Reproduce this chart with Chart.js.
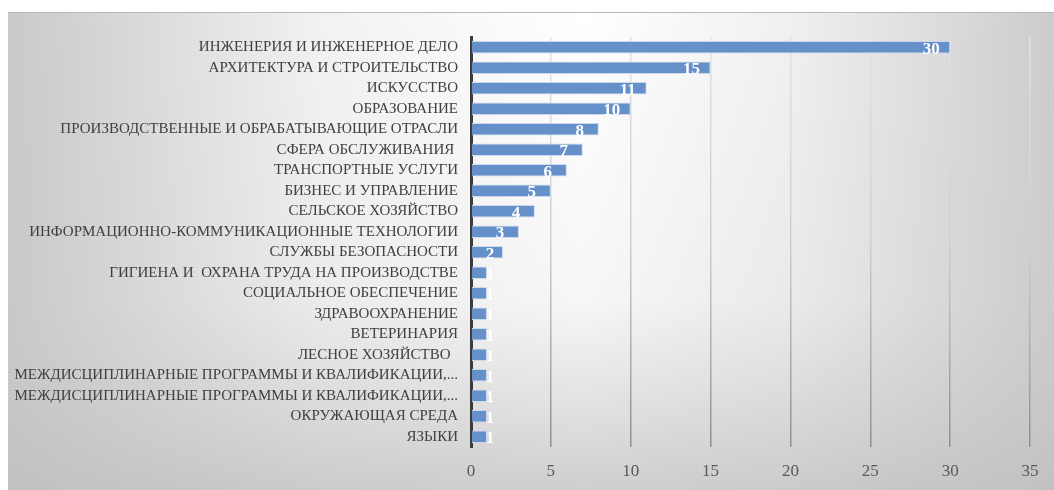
<!DOCTYPE html>
<html>
<head>
<meta charset="utf-8">
<script src="https://cdn.jsdelivr.net/npm/chart.js@4"></script>
<style>
  body { margin: 0; background: #ffffff; }
  #wrap { width: 1054px; height: 490px; position: relative; }
</style>
</head>
<body>
<div id="wrap"><canvas id="myChart" width="1054" height="490"></canvas></div>
<script>
// categories and values
var categories = [
  'ИНЖЕНЕРИЯ И ИНЖЕНЕРНОЕ ДЕЛО',
  'АРХИТЕКТУРА И СТРОИТЕЛЬСТВО',
  'ИСКУССТВО',
  'ОБРАЗОВАНИЕ',
  'ПРОИЗВОДСТВЕННЫЕ И ОБРАБАТЫВАЮЩИЕ ОТРАСЛИ',
  'СФЕРА ОБСЛУЖИВАНИЯ ',
  'ТРАНСПОРТНЫЕ УСЛУГИ',
  'БИЗНЕС И УПРАВЛЕНИЕ',
  'СЕЛЬСКОЕ ХОЗЯЙСТВО',
  'ИНФОРМАЦИОННО-КОММУНИКАЦИОННЫЕ ТЕХНОЛОГИИ',
  'СЛУЖБЫ БЕЗОПАСНОСТИ',
  'ГИГИЕНА И  ОХРАНА ТРУДА НА ПРОИЗВОДСТВЕ',
  'СОЦИАЛЬНОЕ ОБЕСПЕЧЕНИЕ',
  'ЗДРАВООХРАНЕНИЕ',
  'ВЕТЕРИНАРИЯ',
  'ЛЕСНОЕ ХОЗЯЙСТВО  ',
  'МЕЖДИСЦИПЛИНАРНЫЕ ПРОГРАММЫ И КВАЛИФИКАЦИИ,...',
  'МЕЖДИСЦИПЛИНАРНЫЕ ПРОГРАММЫ И КВАЛИФИКАЦИИ,...',
  'ОКРУЖАЮЩАЯ СРЕДА',
  'ЯЗЫКИ'
];
var values = [30, 15, 11, 10, 8, 7, 6, 5, 4, 3, 2, 1, 1, 1, 1, 1, 1, 1, 1, 1];
var xTicks = [0, 5, 10, 15, 20, 25, 30, 35];

var serif = '"Liberation Serif", "DejaVu Serif", serif';

// gray-white-gray panel behind the chart
var backdrop = {
  id: 'backdrop',
  beforeDraw: function(chart) {
    var ctx = chart.ctx;
    ctx.save();
    ctx.fillStyle = '#ffffff';
    ctx.fillRect(0, 0, chart.width, chart.height);
    var g = ctx.createLinearGradient(8, 0, chart.width, 0);
    g.addColorStop(0, '#c9c9c9');
    g.addColorStop(0.3, '#f2f2f2');
    g.addColorStop(0.55, '#ffffff');
    g.addColorStop(0.75, '#f0f0f0');
    g.addColorStop(1, '#cccccc');
    ctx.fillStyle = g;
    ctx.fillRect(8, 12, chart.width - 8, chart.height - 12);
    var v = ctx.createLinearGradient(0, 12, 0, chart.height);
    v.addColorStop(0, 'rgba(200,200,200,0)');
    v.addColorStop(0.6, 'rgba(200,200,200,0.15)');
    v.addColorStop(1, 'rgba(190,190,190,0.75)');
    ctx.fillStyle = v;
    ctx.fillRect(8, 12, chart.width - 8, chart.height - 12);
    ctx.fillStyle = '#b8b8b8';
    ctx.fillRect(8, 12, chart.width - 8, 1);
    ctx.restore();
  }
};

// white value labels near the bar ends
var valueLabels = {
  id: 'valueLabels',
  afterDatasetsDraw: function(chart) {
    var ctx = chart.ctx;
    var meta = chart.getDatasetMeta(0);
    var x0 = chart.scales.x.getPixelForValue(0);
    ctx.save();
    ctx.font = 'bold 17px ' + serif;
    ctx.fillStyle = '#ffffff';
    ctx.textAlign = 'center';
    ctx.textBaseline = 'middle';
    meta.data.forEach(function(bar, i) {
      var cx = Math.max(bar.x - 19, x0 + 19);
      ctx.fillText(String(values[i]), cx, bar.y + 2);
    });
    ctx.restore();
  }
};

const data = {
  labels: categories,
  datasets: [{
    data: values,
    backgroundColor: '#6590c9',
    borderColor: '#c9d8ec',
    borderWidth: 1,
    borderSkipped: 'start',
    barPercentage: 0.6,
    categoryPercentage: 1.0
  }]
};

const config = {
  type: 'bar',
  data: data,
  plugins: [backdrop, valueLabels],
  options: {
    indexAxis: 'y',
    responsive: false,
    animation: false,
    layout: {
      padding: { top: 37, right: 24, bottom: 0, left: 0 }
    },
    plugins: {
      legend: { display: false },
      tooltip: { enabled: false }
    },
    scales: {
      x: {
        min: 0,
        max: 35,
        afterBuildTicks: function(scale) {
          scale.ticks = xTicks.map(function(v) { return { value: v }; });
        },
        afterFit: function(scale) { scale.height = 43; },
        border: { display: false },
        grid: {
          drawTicks: false,
          lineWidth: 1.5,
          color: function(context) {
            var c = context.chart;
            var area = c.chartArea;
            if (!area) return '#c0c0c0';
            var g = c.ctx.createLinearGradient(0, area.top, 0, area.bottom);
            g.addColorStop(0, '#e2e2e2');
            g.addColorStop(0.5, '#cfcfcf');
            g.addColorStop(1, '#8f8f8f');
            return g;
          }
        },
        ticks: {
          padding: 14,
          color: '#595959',
          font: { family: serif, size: 17 }
        }
      },
      y: {
        afterFit: function(scale) { scale.width = 471; },
        border: { display: true, color: '#3a3a3a', width: 3 },
        grid: { display: false, drawTicks: false },
        ticks: {
          padding: 13,
          autoSkip: false,
          color: '#404040',
          font: { family: serif, size: 15 }
        }
      }
    }
  }
};

const myChart = new Chart(document.getElementById('myChart'), config);
</script>
</body>
</html>
